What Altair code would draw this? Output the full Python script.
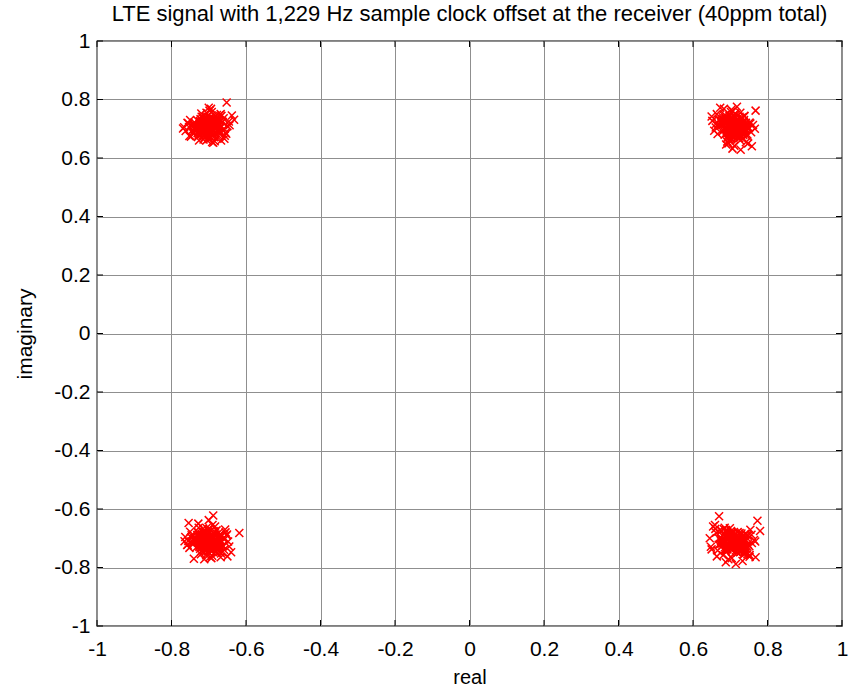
import altair as alt
import pandas as pd

TITLE = "LTE signal with 1,229 Hz sample clock offset at the receiver (40ppm total)"
X_TITLE = "real"
Y_TITLE = "imaginary"
TICKS = [-1.0, -0.8, -0.6, -0.4, -0.2, 0.0, 0.2, 0.4, 0.6, 0.8, 1.0]

# cluster near (-0.707, +0.707)
tl_x = [-0.700,-0.718,-0.683,-0.692,-0.731,-0.671,-0.709,-0.742,-0.660,-0.697,
        -0.724,-0.686,-0.753,-0.655,-0.704,-0.736,-0.677,-0.714,-0.690,-0.762,
        -0.650,-0.727,-0.668,-0.702,-0.748,-0.663,-0.711,-0.684,-0.734,-0.695,
        -0.721,-0.674,-0.757,-0.658,-0.706,-0.739,-0.669,-0.688,-0.726,-0.703,
        -0.766,-0.646,-0.716,-0.680,-0.698,-0.744,-0.662,-0.710,-0.729,-0.672,
        -0.691,-0.755,-0.653,-0.720,-0.685,-0.705,-0.750,-0.657,-0.712,-0.694,
        -0.769,-0.644,-0.738,-0.667,-0.700,-0.652,-0.638,-0.632,-0.752,-0.688,
        -0.715,-0.693,-0.728,-0.679,-0.707,-0.722,-0.687,-0.733,-0.675,-0.699,
        -0.717,-0.682,-0.740,-0.666,-0.708,-0.725,-0.689,-0.745,-0.664,-0.701,
        -0.713,-0.678,-0.735,-0.670,-0.696,-0.730,-0.681,-0.719,-0.676,-0.703,
        -0.746,-0.659,-0.711,-0.692,-0.723,-0.684,-0.737,-0.673,-0.706,-0.698,
        -0.700,-0.708,-0.693,-0.715,-0.686,-0.703,-0.721,-0.679,-0.697,-0.711,
        -0.689,-0.726,-0.674,-0.705,-0.716,-0.684,-0.699,-0.730,-0.671,-0.709,
        -0.694,-0.719,-0.681,-0.702,-0.713,-0.687,-0.724,-0.676,-0.706,-0.696,
        -0.717,-0.683,-0.701,-0.728,-0.673,-0.710,-0.691,-0.720,-0.678,-0.704,
        -0.712,-0.688,-0.723,-0.680,-0.698,-0.714,-0.685,-0.733,-0.668,-0.707,
        -0.695,-0.718,-0.682,-0.703,-0.727,-0.675,-0.700,-0.711,-0.690,-0.722]
tl_y = [0.708,0.699,0.718,0.688,0.729,0.703,0.681,0.714,0.736,0.693,
        0.722,0.671,0.706,0.686,0.742,0.697,0.712,0.663,0.727,0.692,
        0.709,0.679,0.750,0.716,0.673,0.724,0.701,0.657,0.694,0.738,
        0.711,0.677,0.720,0.666,0.755,0.700,0.689,0.731,0.660,0.710,
        0.705,0.725,0.740,0.669,0.762,0.687,0.696,0.715,0.672,0.745,
        0.655,0.719,0.683,0.752,0.707,0.662,0.730,0.676,0.691,0.768,
        0.701,0.712,0.721,0.660,0.772,0.790,0.745,0.731,0.675,0.652,
        0.715,0.702,0.689,0.727,0.695,0.733,0.680,0.706,0.719,0.698,
        0.684,0.728,0.709,0.744,0.674,0.716,0.737,0.694,0.723,0.667,
        0.703,0.747,0.699,0.713,0.726,0.685,0.718,0.741,0.692,0.734,
        0.711,0.700,0.678,0.757,0.696,0.720,0.705,0.688,0.730,0.664,
        0.708,0.715,0.701,0.696,0.722,0.710,0.689,0.719,0.704,0.727,
        0.693,0.712,0.700,0.731,0.685,0.716,0.698,0.707,0.724,0.690,
        0.734,0.703,0.713,0.682,0.720,0.697,0.726,0.709,0.688,0.738,
        0.702,0.717,0.693,0.711,0.729,0.680,0.723,0.699,0.714,0.686,
        0.733,0.705,0.692,0.725,0.711,0.678,0.718,0.700,0.706,0.740,
        0.695,0.721,0.684,0.730,0.703,0.690,0.676,0.714,0.728,0.708]

# cluster near (+0.707, +0.707)
tr_x = [0.712,0.697,0.729,0.688,0.721,0.740,0.704,0.679,0.726,0.694,
        0.749,0.670,0.709,0.735,0.690,0.717,0.756,0.662,0.702,0.731,
        0.684,0.713,0.744,0.675,0.719,0.692,0.761,0.657,0.707,0.737,
        0.681,0.724,0.699,0.752,0.666,0.715,0.695,0.733,0.686,0.708,
        0.766,0.652,0.727,0.678,0.703,0.746,0.672,0.720,0.691,0.738,
        0.661,0.711,0.754,0.683,0.723,0.700,0.742,0.664,0.714,0.696,
        0.768,0.748,0.758,0.673,0.706,0.728,0.650,0.741,0.689,0.718,
        0.716,0.701,0.730,0.687,0.722,0.693,0.739,0.677,0.710,0.725,
        0.698,0.734,0.682,0.719,0.705,0.745,0.668,0.713,0.727,0.690,
        0.706,0.736,0.680,0.721,0.699,0.743,0.671,0.715,0.732,0.686,
        0.711,0.724,0.694,0.750,0.676,0.708,0.728,0.702,0.739,0.685,
        0.712,0.704,0.720,0.697,0.727,0.709,0.690,0.731,0.716,0.701,
        0.735,0.694,0.723,0.706,0.685,0.718,0.740,0.699,0.713,0.728,
        0.688,0.710,0.733,0.703,0.721,0.692,0.737,0.715,0.698,0.725,
        0.683,0.707,0.730,0.695,0.719,0.711,0.742,0.687,0.724,0.702,
        0.714,0.734,0.691,0.717,0.705,0.729,0.680,0.722,0.700,0.738,
        0.696,0.711,0.726,0.689,0.716,0.732,0.703,0.719,0.693,0.708]
tr_y = [0.706,0.715,0.696,0.726,0.684,0.711,0.735,0.691,0.720,0.673,
        0.703,0.709,0.745,0.679,0.699,0.729,0.688,0.717,0.664,0.738,
        0.698,0.752,0.676,0.723,0.707,0.656,0.713,0.693,0.760,0.687,
        0.732,0.668,0.702,0.721,0.682,0.748,0.650,0.708,0.741,0.690,
        0.700,0.727,0.660,0.714,0.765,0.680,0.731,0.695,0.667,0.743,
        0.704,0.642,0.718,0.768,0.675,0.692,0.654,0.750,0.710,0.685,
        0.762,0.650,0.640,0.772,0.632,0.628,0.742,0.700,0.646,0.775,
        0.719,0.694,0.712,0.736,0.683,0.722,0.701,0.728,0.689,0.716,
        0.744,0.697,0.724,0.671,0.733,0.705,0.717,0.686,0.755,0.710,
        0.677,0.725,0.739,0.693,0.662,0.714,0.730,0.699,0.683,0.747,
        0.721,0.690,0.736,0.703,0.718,0.670,0.708,0.757,0.694,0.727,
        0.706,0.698,0.714,0.691,0.721,0.703,0.684,0.717,0.709,0.728,
        0.694,0.711,0.700,0.733,0.680,0.719,0.697,0.725,0.688,0.707,
        0.737,0.702,0.713,0.676,0.723,0.695,0.730,0.709,0.686,0.741,
        0.700,0.716,0.690,0.712,0.727,0.672,0.720,0.698,0.705,0.683,
        0.735,0.704,0.693,0.724,0.710,0.677,0.718,0.701,0.688,0.744,
        0.696,0.722,0.682,0.731,0.705,0.691,0.668,0.715,0.728,0.700]

# cluster near (-0.707, -0.707)
bl_x = [-0.700,-0.719,-0.682,-0.691,-0.733,-0.670,-0.710,-0.744,-0.659,-0.696,
        -0.725,-0.685,-0.755,-0.652,-0.703,-0.738,-0.676,-0.715,-0.689,-0.763,
        -0.648,-0.728,-0.667,-0.701,-0.750,-0.661,-0.712,-0.683,-0.736,-0.694,
        -0.722,-0.673,-0.758,-0.656,-0.707,-0.741,-0.668,-0.687,-0.727,-0.704,
        -0.765,-0.645,-0.717,-0.679,-0.697,-0.746,-0.660,-0.711,-0.730,-0.671,
        -0.690,-0.757,-0.651,-0.721,-0.684,-0.706,-0.752,-0.655,-0.713,-0.693,
        -0.754,-0.700,-0.688,-0.618,-0.640,-0.650,-0.740,-0.712,-0.668,-0.728,
        -0.716,-0.692,-0.729,-0.678,-0.708,-0.723,-0.686,-0.734,-0.674,-0.699,
        -0.718,-0.681,-0.742,-0.665,-0.709,-0.726,-0.688,-0.747,-0.663,-0.702,
        -0.714,-0.677,-0.737,-0.669,-0.695,-0.731,-0.680,-0.720,-0.675,-0.704,
        -0.748,-0.658,-0.711,-0.691,-0.724,-0.683,-0.739,-0.672,-0.706,-0.698,
        -0.700,-0.709,-0.692,-0.716,-0.685,-0.704,-0.722,-0.678,-0.696,-0.712,
        -0.688,-0.727,-0.673,-0.706,-0.717,-0.683,-0.698,-0.731,-0.670,-0.710,
        -0.693,-0.720,-0.680,-0.701,-0.714,-0.686,-0.725,-0.675,-0.707,-0.695,
        -0.718,-0.682,-0.702,-0.729,-0.672,-0.711,-0.690,-0.721,-0.677,-0.705,
        -0.713,-0.687,-0.724,-0.679,-0.697,-0.715,-0.684,-0.734,-0.667,-0.708,
        -0.694,-0.719,-0.681,-0.703,-0.728,-0.674,-0.699,-0.712,-0.689,-0.723]
bl_y = [-0.712,-0.703,-0.721,-0.693,-0.731,-0.707,-0.685,-0.717,-0.739,-0.698,
        -0.726,-0.676,-0.709,-0.690,-0.745,-0.701,-0.715,-0.667,-0.729,-0.696,
        -0.711,-0.683,-0.752,-0.719,-0.678,-0.727,-0.705,-0.660,-0.699,-0.741,
        -0.714,-0.681,-0.723,-0.670,-0.758,-0.704,-0.692,-0.734,-0.664,-0.713,
        -0.710,-0.728,-0.743,-0.673,-0.764,-0.690,-0.700,-0.718,-0.677,-0.748,
        -0.655,-0.722,-0.687,-0.755,-0.711,-0.665,-0.733,-0.680,-0.695,-0.768,
        -0.648,-0.638,-0.622,-0.682,-0.748,-0.762,-0.770,-0.772,-0.765,-0.650,
        -0.718,-0.706,-0.692,-0.730,-0.699,-0.736,-0.684,-0.709,-0.722,-0.702,
        -0.688,-0.731,-0.712,-0.747,-0.679,-0.719,-0.740,-0.697,-0.726,-0.671,
        -0.706,-0.750,-0.703,-0.716,-0.729,-0.689,-0.721,-0.744,-0.695,-0.737,
        -0.714,-0.704,-0.682,-0.760,-0.700,-0.724,-0.708,-0.691,-0.733,-0.668,
        -0.712,-0.719,-0.705,-0.700,-0.726,-0.714,-0.693,-0.723,-0.708,-0.731,
        -0.697,-0.716,-0.704,-0.735,-0.689,-0.720,-0.702,-0.711,-0.728,-0.694,
        -0.738,-0.707,-0.717,-0.686,-0.724,-0.701,-0.730,-0.713,-0.692,-0.742,
        -0.706,-0.721,-0.697,-0.715,-0.733,-0.684,-0.727,-0.703,-0.718,-0.690,
        -0.737,-0.709,-0.696,-0.729,-0.715,-0.682,-0.722,-0.704,-0.710,-0.744,
        -0.699,-0.725,-0.688,-0.734,-0.707,-0.694,-0.680,-0.718,-0.732,-0.712]

# cluster near (+0.707, -0.707)
br_x = [0.712,0.696,0.730,0.687,0.722,0.742,0.703,0.677,0.727,0.693,
        0.751,0.668,0.709,0.737,0.689,0.718,0.758,0.660,0.701,0.732,
        0.682,0.713,0.746,0.673,0.720,0.691,0.764,0.654,0.706,0.739,
        0.679,0.725,0.698,0.754,0.664,0.716,0.694,0.735,0.685,0.708,
        0.767,0.648,0.728,0.676,0.704,0.748,0.670,0.721,0.690,0.740,
        0.659,0.710,0.757,0.681,0.724,0.699,0.744,0.662,0.715,0.695,
        0.773,0.780,0.670,0.645,0.650,0.768,0.733,0.688,0.752,0.715,
        0.717,0.700,0.731,0.686,0.723,0.692,0.740,0.675,0.711,0.726,
        0.697,0.735,0.680,0.720,0.704,0.747,0.666,0.714,0.728,0.689,
        0.707,0.737,0.678,0.722,0.698,0.745,0.669,0.716,0.733,0.684,
        0.712,0.725,0.693,0.752,0.674,0.709,0.729,0.701,0.741,0.683,
        0.712,0.703,0.721,0.696,0.728,0.708,0.689,0.732,0.717,0.700,
        0.736,0.693,0.724,0.705,0.684,0.719,0.741,0.698,0.714,0.729,
        0.687,0.711,0.734,0.702,0.722,0.691,0.738,0.716,0.697,0.726,
        0.682,0.706,0.731,0.694,0.720,0.710,0.744,0.686,0.725,0.701,
        0.715,0.735,0.690,0.718,0.704,0.730,0.679,0.723,0.699,0.739,
        0.695,0.712,0.727,0.688,0.717,0.733,0.702,0.720,0.692,0.709]
br_y = [-0.713,-0.704,-0.722,-0.694,-0.733,-0.708,-0.686,-0.718,-0.741,-0.699,
        -0.727,-0.677,-0.710,-0.691,-0.747,-0.702,-0.716,-0.668,-0.731,-0.697,
        -0.712,-0.684,-0.755,-0.720,-0.679,-0.728,-0.706,-0.660,-0.700,-0.744,
        -0.715,-0.682,-0.724,-0.671,-0.762,-0.705,-0.693,-0.736,-0.664,-0.714,
        -0.711,-0.729,-0.746,-0.674,-0.768,-0.691,-0.701,-0.719,-0.678,-0.751,
        -0.655,-0.723,-0.688,-0.758,-0.712,-0.666,-0.735,-0.681,-0.696,-0.772,
        -0.640,-0.675,-0.625,-0.700,-0.738,-0.765,-0.778,-0.782,-0.757,-0.788,
        -0.719,-0.707,-0.693,-0.731,-0.700,-0.738,-0.685,-0.710,-0.723,-0.703,
        -0.689,-0.732,-0.713,-0.749,-0.680,-0.720,-0.742,-0.698,-0.727,-0.672,
        -0.707,-0.753,-0.704,-0.717,-0.730,-0.690,-0.722,-0.746,-0.696,-0.739,
        -0.715,-0.705,-0.683,-0.763,-0.701,-0.725,-0.709,-0.692,-0.734,-0.669,
        -0.713,-0.705,-0.721,-0.698,-0.728,-0.710,-0.691,-0.724,-0.716,-0.735,
        -0.701,-0.718,-0.707,-0.740,-0.687,-0.726,-0.704,-0.732,-0.695,-0.714,
        -0.744,-0.709,-0.720,-0.683,-0.730,-0.702,-0.737,-0.716,-0.693,-0.748,
        -0.707,-0.723,-0.697,-0.719,-0.734,-0.679,-0.727,-0.705,-0.712,-0.690,
        -0.742,-0.711,-0.700,-0.731,-0.717,-0.684,-0.725,-0.708,-0.695,-0.751,
        -0.703,-0.729,-0.689,-0.738,-0.712,-0.698,-0.675,-0.722,-0.735,-0.707]

rows = []
for xs, ys in [(tl_x, tl_y), (tr_x, tr_y), (bl_x, bl_y), (br_x, br_y)]:
    for a, b in zip(xs, ys):
        rows.append({"re": a, "im": b})
pts = pd.DataFrame(rows)
ticks = pd.DataFrame({"re": TICKS, "im": TICKS})

W, H = 745, 585
FONT = "Liberation Sans"
GRID = "#8f8f8f"
label_expr = "replace(format(datum.value, '.1~f'), '\u2212', '-')"

xscale = alt.Scale(domain=[-1, 1], nice=False, zero=False)
yscale = alt.Scale(domain=[-1, 1], nice=False, zero=False)

xaxis = alt.Axis(values=TICKS, grid=True, gridColor=GRID, gridWidth=1, gridOpacity=1,
                 ticks=False, domain=False, labelFont=FONT, labelFontSize=21, labelColor="black",
                 labelPadding=12, labelFlush=False, labelOverlap=False, labelExpr=label_expr,
                 title=X_TITLE, titleFont=FONT, titleFontSize=20, titleFontWeight="normal",
                 titleColor="black", titleBaseline="alphabetic", titleY=57)
yaxis = alt.Axis(values=TICKS, grid=True, gridColor=GRID, gridWidth=1, gridOpacity=1,
                 ticks=False, domain=False, labelFont=FONT, labelFontSize=21, labelColor="black",
                 labelPadding=7, labelFlush=False, labelOverlap=False, labelExpr=label_expr,
                 title=Y_TITLE, titleFont=FONT, titleFontSize=21, titleFontWeight="normal",
                 titleColor="black", titleBaseline="alphabetic", titleX=-66, titleY=H / 2,
                 titleAngle=-90, titleAlign="center")

X = alt.X("re:Q", scale=xscale, axis=xaxis)
Y = alt.Y("im:Q", scale=yscale, axis=yaxis)

points = alt.Chart(pts).mark_point(
    shape="M-1,-1L1,1M-1,1L1,-1", filled=False, stroke="#ff0000", strokeWidth=1.5,
    size=64, opacity=1
).encode(x=X, y=Y)

tk = alt.Chart(ticks)
xt_top = tk.mark_rule(color="black", strokeWidth=1).encode(x=X, y=alt.value(0), y2=alt.value(6))
xt_bot = tk.mark_rule(color="black", strokeWidth=1).encode(x=X, y=alt.value(H), y2=alt.value(H - 6))
yt_left = tk.mark_rule(color="black", strokeWidth=1).encode(y=Y, x=alt.value(0), x2=alt.value(6))
yt_right = tk.mark_rule(color="black", strokeWidth=1).encode(y=Y, x=alt.value(W), x2=alt.value(W - 6))

chart = alt.layer(points, xt_top, xt_bot, yt_left, yt_right).properties(
    width=W, height=H,
    autosize=alt.AutoSizeParams(type="none"),
    padding={"left": 97, "top": 41, "right": 14, "bottom": 61},
    background="white",
    title=alt.TitleParams(TITLE, font=FONT, fontSize=22, fontWeight="normal", color="black",
                          anchor="middle", baseline="alphabetic", offset=7, dy=20),
).configure_view(stroke="black", strokeWidth=1.3)

chart.save("out.html", embed_options={"renderer": "svg", "actions": False})
